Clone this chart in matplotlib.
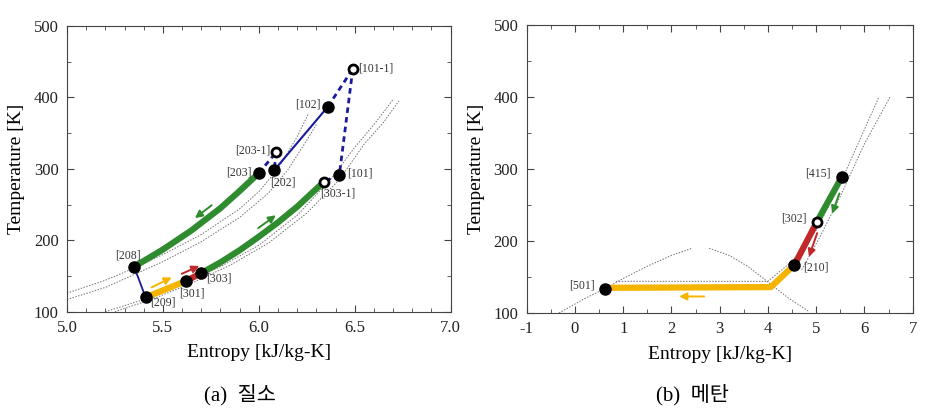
import matplotlib
matplotlib.use('Agg')
import matplotlib.pyplot as plt
from matplotlib.ticker import MultipleLocator

plt.rcParams['font.family'] = ['Liberation Serif', 'Noto Sans CJK KR']
plt.rcParams['axes.unicode_minus'] = False

GREEN = '#2e8b2e'
YELLOW = '#f5b400'
RED = '#c0282a'
BLUE = '#1a1a9c'
GREY = '#707070'

# ---- (a) nitrogen ----
n2_names = ['[101-1]', '[102]', '[203-1]', '[203]', '[202]', '[101]', '[303-1]',
            '[208]', '[209]', '[301]', '[303]']
n2_s = [6.49, 6.36, 6.09, 6.00, 6.08, 6.42, 6.34, 5.35, 5.41, 5.62, 5.70]
n2_T = [440, 387, 323, 294, 298, 292, 282, 163, 120, 143, 154]
n2_open = ['[101-1]', '[203-1]', '[303-1]']

# green heat-exchange paths
n2_hot_s = [5.35, 5.50, 5.65, 5.80, 5.90, 6.00]
n2_hot_T = [163, 187, 214, 245, 269, 294]
n2_cold_s = [5.70, 5.80, 5.90, 6.00, 6.10, 6.20, 6.34]
n2_cold_T = [154, 169, 186, 205, 225, 247, 282]

# isobars (dotted)
n2_iso = [
    ([5.0, 5.2, 5.35, 5.5, 5.7, 5.9, 6.0, 6.1, 6.2, 6.26],
     [126, 144, 161, 180, 208, 244, 268, 300, 345, 378]),
    ([5.0, 5.2, 5.35, 5.5, 5.7, 5.9, 6.05, 6.15, 6.25, 6.3],
     [117, 134, 152, 170, 198, 232, 266, 298, 340, 362]),
    ([5.2, 5.4, 5.6, 5.8, 6.0, 6.2, 6.38, 6.5, 6.6, 6.70],
     [100, 117, 138, 163, 193, 235, 287, 330, 362, 397]),
    ([5.25, 5.45, 5.65, 5.85, 6.05, 6.25, 6.42, 6.55, 6.65, 6.73],
     [100, 118, 140, 165, 196, 238, 285, 335, 365, 395]),
]

n2_label_pos = {
    '[101-1]': (6.518, 441, 'left'), '[102]': (6.322, 390, 'right'),
    '[203-1]': (6.058, 325, 'right'), '[203]': (5.963, 295, 'right'),
    '[202]': (6.127, 281, 'center'), '[101]': (6.458, 293, 'left'),
    '[303-1]': (6.41, 266, 'center'), '[208]': (5.316, 179, 'center'),
    '[209]': (5.50, 113, 'center'), '[301]': (5.65, 126, 'center'),
    '[303]': (5.792, 147, 'center'),
}

# arrows: (start s, start T, end s, end T, colour)
n2_arrows = [
    (5.754, 249, 5.667, 231, GREEN),
    (5.997, 217, 6.089, 235, GREEN),
    (5.441, 134, 5.546, 148, YELLOW),
    (5.598, 153, 5.690, 164, RED),
]

# ---- (b) methane ----
ch4_names = ['[415]', '[302]', '[210]', '[501]']
ch4_s = [5.53, 5.01, 4.55, 0.63]
ch4_T = [289, 226, 167, 133]
ch4_open = ['[302]']
ch4_yellow_s = [0.63, 4.06, 4.55]
ch4_yellow_T = [135, 136, 167]

ch4_dome_l = ([-0.33, 0.2, 0.63, 1.0, 1.5, 2.0, 2.43], [100, 120, 134, 148, 165, 180, 190])
ch4_dome_r = ([2.78, 3.2, 3.6, 4.0, 4.4, 4.85], [190, 180, 164, 143, 122, 102])
ch4_iso = [
    ([0.85, 4.0, 4.5, 5.0, 5.5, 6.0, 6.3], [144, 144, 172, 215, 280, 355, 400]),
    ([4.7, 5.08, 5.5, 6.0, 6.53], [160, 206, 262, 335, 400]),
]
ch4_label_pos = {
    '[415]': (5.04, 294, 'center'), '[302]': (4.54, 231, 'center'),
    '[210]': (5.0, 163, 'center'), '[501]': (0.15, 138, 'center'),
}
ch4_arrows = [
    (2.68, 123, 2.16, 123, YELLOW),
    (5.48, 266, 5.33, 238, GREEN),
    (5.02, 211, 4.85, 178, RED),
]

fig = plt.figure(figsize=(9.34, 4.13), dpi=100)
ax1 = fig.add_axes([0.0717, 0.2453, 0.4108, 0.6918])
ax2 = fig.add_axes([0.5639, 0.2421, 0.4133, 0.6973])


def style_axes(ax, xlim, xmaj, xmin):
    ax.set_xlim(*xlim)
    ax.set_ylim(100, 500)
    ax.xaxis.set_major_locator(MultipleLocator(xmaj))
    ax.xaxis.set_minor_locator(MultipleLocator(xmin))
    ax.yaxis.set_major_locator(MultipleLocator(100))
    ax.yaxis.set_minor_locator(MultipleLocator(50))
    ax.tick_params(which='both', direction='in', top=True, right=True,
                   labelsize=12, color='#444444', labelcolor='#222222')
    ax.tick_params(which='major', length=5, pad=6)
    ax.tick_params(which='minor', length=3)
    for sp in ax.spines.values():
        sp.set_color('#444444')
    ax.set_xlabel('Entropy [kJ/kg-K]', fontsize=14, labelpad=6)
    ax.set_ylabel('Temperature [K]', fontsize=14, labelpad=6)


def draw_points(ax, names, s, T, opened, label_pos):
    for n, x, y in zip(names, s, T):
        if n in opened:
            ax.plot(x, y, 'o', ms=6.5, mfc='white', mec='black', mew=2, zorder=6)
        else:
            ax.plot(x, y, 'o', ms=8, color='black', zorder=6)
        tx, ty, ha = label_pos[n]
        ax.text(tx, ty, n, fontsize=8.5, ha=ha, va='center', color='#333333', zorder=7)


def draw_arrows(ax, arrows):
    for x0, y0, x1, y1, c in arrows:
        ax.annotate('', xy=(x1, y1), xytext=(x0, y0),
                    arrowprops=dict(arrowstyle='-|>', color=c, lw=1.4,
                                    mutation_scale=11, shrinkA=0, shrinkB=0))


# (a)
style_axes(ax1, (5.0, 7.0), 0.5, 0.1)
ax1.xaxis.set_major_formatter(plt.FormatStrFormatter('%.1f'))
for xs, ys in n2_iso:
    ax1.plot(xs, ys, ls=(0, (1.5, 1.5)), lw=0.7, color=GREY, zorder=1)
ax1.plot(n2_hot_s, n2_hot_T, color=GREEN, lw=4.5, solid_capstyle='round', zorder=3)
ax1.plot(n2_cold_s, n2_cold_T, color=GREEN, lw=4.5, solid_capstyle='round', zorder=3)
idx = {n: i for i, n in enumerate(n2_names)}


def seg(a, b):
    return [n2_s[idx[a]], n2_s[idx[b]]], [n2_T[idx[a]], n2_T[idx[b]]]


ax1.plot(*seg('[209]', '[301]'), color=YELLOW, lw=4.5, zorder=3)
ax1.plot(*seg('[301]', '[303]'), color=RED, lw=4.5, zorder=3)
ax1.plot(*seg('[208]', '[209]'), color=BLUE, lw=1.3, zorder=4)
ax1.plot(*seg('[202]', '[102]'), color=BLUE, lw=1.5, zorder=4)
for a, b in [('[102]', '[101-1]'), ('[101-1]', '[101]'), ('[101]', '[303-1]'),
             ('[203]', '[203-1]'), ('[203-1]', '[202]')]:
    ax1.plot(*seg(a, b), color=BLUE, lw=2, ls=(0, (2, 1.5)), zorder=4)
draw_points(ax1, n2_names, n2_s, n2_T, n2_open, n2_label_pos)
draw_arrows(ax1, n2_arrows)

# (b)
style_axes(ax2, (-1, 7), 1, 0.5)
for xs, ys in [ch4_dome_l, ch4_dome_r] + ch4_iso:
    ax2.plot(xs, ys, ls=(0, (1.5, 1.5)), lw=0.7, color=GREY, zorder=1)
ax2.plot(ch4_yellow_s, ch4_yellow_T, color=YELLOW, lw=4.5, zorder=3)
ax2.plot(ch4_s[2:0:-1], ch4_T[2:0:-1], color=RED, lw=4.5, zorder=3)
ax2.plot(ch4_s[1::-1], ch4_T[1::-1], color=GREEN, lw=4.5, zorder=3)
draw_points(ax2, ch4_names, ch4_s, ch4_T, ch4_open, ch4_label_pos)
draw_arrows(ax2, ch4_arrows)

fig.text(0.257, 0.045, '(a)  질소', fontsize=15, ha='center', va='center')
fig.text(0.741, 0.045, '(b)  메탄', fontsize=15, ha='center', va='center')

fig.savefig('out.png', dpi=100)
